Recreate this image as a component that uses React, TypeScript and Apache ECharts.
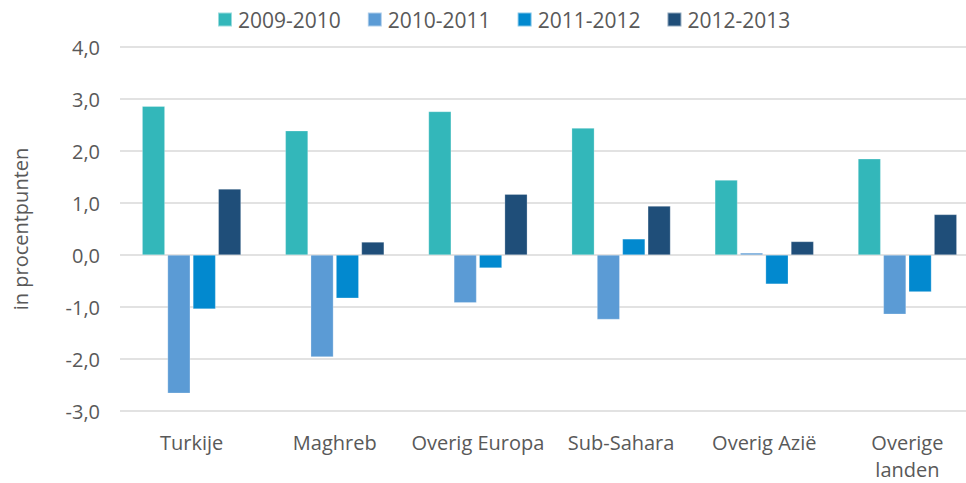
import React, { useEffect, useRef } from "react";
import * as echarts from "echarts";

const categories = ["Turkije", "Maghreb", "Overig Europa", "Sub-Sahara", "Overig Azië", "Overige\nlanden"];
const seriesNames = ["2009-2010", "2010-2011", "2011-2012", "2012-2013"];
const s2009 = [2.86, 2.39, 2.76, 2.44, 1.44, 1.85];
const s2010 = [-2.66, -1.96, -0.92, -1.24, 0.04, -1.14];
const s2011 = [-1.04, -0.83, -0.25, 0.31, -0.56, -0.71];
const s2012 = [1.27, 0.25, 1.17, 0.94, 0.26, 0.78];
const colors = ["#33B7BA", "#5B9BD5", "#0289CF", "#1F4E79"];

export default function App() {
  const ref = useRef<HTMLDivElement>(null);
  useEffect(() => {
    if (!ref.current) return;
    const chart = echarts.init(ref.current, null, { renderer: "svg" });
    const font = "'Open Sans', sans-serif";
    const data = [s2009, s2010, s2011, s2012];
    chart.setOption({
      animation: false,
      color: colors,
      textStyle: { fontFamily: font },
      legend: {
        top: 4,
        left: 212,
        itemWidth: 14,
        itemHeight: 14,
        itemGap: 26,
        icon: "rect",
        textStyle: { fontSize: 21, color: "#595959", fontFamily: font, padding: [0, 0, 0, 1] },
        data: seriesNames,
      },
      grid: { left: 120, right: 0, top: 47, bottom: 72, containLabel: false },
      xAxis: {
        type: "category",
        data: categories,
        axisLine: { show: false },
        axisTick: { show: false },
        axisLabel: { color: "#595959", fontSize: 20, fontFamily: font, margin: 18, lineHeight: 27, interval: 0 },
      },
      yAxis: {
        type: "value",
        min: -3,
        max: 4,
        interval: 1,
        name: "in procentpunten",
        nameLocation: "middle",
        nameGap: 90,
        nameRotate: 90,
        nameTextStyle: { color: "#595959", fontSize: 20, fontFamily: font },
        axisLine: { show: false },
        axisTick: { show: false },
        axisLabel: {
          color: "#595959",
          fontSize: 20,
          fontFamily: font,
          margin: 20,
          formatter: (v: number) => v.toFixed(1).replace(".", ","),
        },
        splitLine: { lineStyle: { color: "#D9D9D9", width: 1.5 } },
      },
      series: seriesNames.map((name, i) => ({
        name,
        type: "bar",
        data: data[i],
        barGap: "12%",
        barCategoryGap: "31%",
        itemStyle: { color: colors[i], borderColor: "rgba(255,255,255,0.5)", borderWidth: 0.5 },
      })),
    });
    return () => chart.dispose();
  }, []);
  return (
    <div style={{ position: "absolute", left: 0, top: 0, width: 966, height: 483, overflow: "hidden" }}>
      <div ref={ref} style={{ width: 979, height: 483 }} />
    </div>
  );
}
